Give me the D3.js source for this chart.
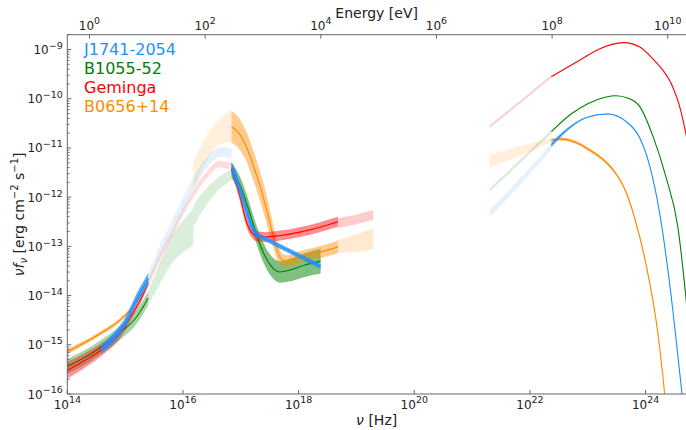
<!DOCTYPE html>
<html><head><meta charset="utf-8">
<script src="https://cdn.jsdelivr.net/npm/d3@7"></script>
<style>body{margin:0;background:#fff}svg{display:block}text{font-family:"DejaVu Sans",sans-serif}</style>
</head><body><svg id="c" width="686" height="430"></svg>
<script>
// ---- data: rows are [log10 nu (Hz), log10 nuF_nu, half band width in dex] ----
const names = ["J1741-2054", "B1055-52", "Geminga", "B0656+14"];
const colors = ["#1e90ff", "green", "#ff0000", "#ff8c00"];

// J1741-2054
const blueOpt = [[14.59,-15.09,0.09],[14.8,-14.86,0.1],[15.0,-14.55,0.1],[15.2,-14.07,0.11],[15.4,-13.66,0.12]];
const blueOptExt = [[15.4,-13.66,0.1],[15.6,-13.1,0.11],[15.83,-12.55,0.12],[16.0,-12.15,0.12],[16.18,-11.72,0.12],[16.41,-11.3,0.11],[16.67,-11.08,0.1],[16.84,-11.12,0.1]];
const blueX = [[16.84,-11.41,0.13],[16.93,-11.65,0.13],[17.02,-11.98,0.13],[17.10,-12.30,0.12],[17.19,-12.59,0.1],[17.26,-12.73,0.07],[17.36,-12.81,0.05],[17.50,-12.89,0.05],[17.85,-13.10,0.05],[18.38,-13.41,0.05]];
const blueGamExt = [[21.30,-12.34,0.07],[21.85,-11.66,0.07],[22.37,-10.97,0.06]];
const blueGam = [[22.37,-10.94,0.05],[22.63,-10.64,0.03],[22.98,-10.38,0.01],[23.35,-10.31,0.01],[23.67,-10.47,0.01],[23.90,-10.80,0.01],[24.07,-11.36,0.01],[24.24,-12.3,0.01],[24.41,-13.7,0.01],[24.63,-16.0,0.01],[24.72,-17.0,0.01]];

// B1055-52
const greenOpt = [[14.0,-15.44,0.15],[14.3,-15.26,0.15],[14.59,-15.04,0.14],[14.94,-14.73,0.14],[15.2,-14.43,0.14],[15.4,-14.05,0.14]];
const greenOptExt = [[15.4,-14.05,0.14],[15.6,-13.55,0.22],[15.78,-13.12,0.27],[16.0,-12.8,0.32],[16.18,-12.6,0.37]];
const greenXExt = [[16.18,-12.38,0.22],[16.40,-12.0,0.17],[16.62,-11.72,0.13],[16.84,-11.55,0.11]];
const greenX = [[16.84,-11.45,0.16],[16.98,-11.74,0.17],[17.10,-12.12,0.18],[17.21,-12.53,0.18],[17.31,-12.89,0.19],[17.42,-13.20,0.2],[17.54,-13.42,0.21],[17.68,-13.52,0.22],[17.85,-13.48,0.23],[18.11,-13.38,0.24],[18.38,-13.30,0.25]];
const greenGamExt = [[21.30,-11.86,0.03],[21.85,-11.25,0.03],[22.37,-10.67,0.03]];
const greenGam = [[22.37,-10.67,0.01],[22.70,-10.32,0.01],[23.0,-10.10,0.01],[23.3,-9.97,0.01],[23.49,-9.94,0.01],[23.70,-9.99,0.01],[23.90,-10.16,0.01],[24.13,-10.77,0.01],[24.36,-11.62,0.01],[24.56,-12.62,0.01],[24.69,-13.95,0.01],[24.72,-14.3,0.01]];

// Geminga
const redOpt = [[14.0,-15.52,0.17],[14.3,-15.32,0.15],[14.59,-15.1,0.13],[14.94,-14.72,0.1],[15.1,-14.42,0.08],[15.25,-14.12,0.07],[15.4,-13.75,0.06]];
const redOptExt = [[15.4,-13.75,0.07],[15.6,-13.22,0.07],[15.83,-12.7,0.07],[16.0,-12.3,0.07],[16.18,-11.93,0.07],[16.41,-11.55,0.07],[16.62,-11.33,0.07],[16.84,-11.38,0.07]];
const redX = [[16.84,-11.42,0.1],[16.98,-11.96,0.1],[17.09,-12.47,0.1],[17.18,-12.71,0.1],[17.26,-12.79,0.1],[17.42,-12.81,0.1],[17.68,-12.78,0.1],[18.02,-12.71,0.1],[18.37,-12.61,0.1],[18.68,-12.50,0.1]];
const redXExt = [[18.68,-12.53,0.1],[19.0,-12.45,0.1],[19.29,-12.36,0.1]];
const redGamExt = [[21.30,-10.57,0.025],[21.85,-10.05,0.025],[22.37,-9.55,0.025]];
const redGam = [[22.37,-9.55,0.01],[22.86,-9.22,0.01],[23.20,-8.99,0.01],[23.62,-8.86,0.01],[23.90,-8.95,0.01],[24.15,-9.22,0.01],[24.30,-9.42,0.01],[24.47,-9.76,0.01],[24.58,-10.12,0.01],[24.69,-10.67,0.01],[24.72,-10.85,0.01]];

// B0656+14
const orangeOpt = [[14.0,-15.14,0.05],[14.57,-14.77,0.04],[14.91,-14.50,0.04],[15.11,-14.26,0.04],[15.25,-14.03,0.04],[15.4,-13.75,0.04]];
const orangeXExtLo = [[16.18,-11.57,0.29],[16.41,-11.0,0.26],[16.64,-10.66,0.26],[16.84,-10.56,0.32]];
const orangeX = [[16.84,-10.57,0.32],[16.98,-10.72,0.31],[17.10,-10.98,0.3],[17.2,-11.3,0.3],[17.3,-11.65,0.3],[17.4,-12.05,0.29],[17.5,-12.5,0.26],[17.58,-12.88,0.22],[17.65,-13.15,0.17],[17.71,-13.27,0.13],[17.8,-13.30,0.12],[18.02,-13.22,0.12],[18.37,-13.12,0.12],[18.68,-13.01,0.13]];
const orangeXExtHi = [[18.68,-13.0,0.13],[19.0,-12.93,0.18],[19.29,-12.85,0.22]];
const orangeGamExt = [[21.30,-11.27,0.12],[21.84,-11.06,0.1],[22.1,-10.95,0.07],[22.37,-10.84,0.04]];
const orangeGam = [[22.37,-10.84,0.03],[22.55,-10.82,0.03],[22.75,-10.87,0.03],[23.03,-11.04,0.03],[23.25,-11.22,0.03],[23.44,-11.45,0.03],[23.67,-11.92,0.03],[23.81,-12.42,0.03],[24.01,-13.38,0.03],[24.21,-14.74,0.03],[24.33,-16.0,0.03],[24.40,-16.9,0.03]];

// ticks
const xTickExps = [14, 16, 18, 20, 22, 24];
const eVTickExps = [0, 2, 4, 6, 8, 10];
const yTickExps = [-16, -15, -14, -13, -12, -11, -10, -9];
const HZ_PER_EV = 2.418e14;

// ---- chart ----
const svg = d3.select("#c");
const L = 67.3, R = 686, T = 34.7, B = 394;
const x = d3.scaleLog().domain([1e14, 5e24]).range([L, R]);
const y = d3.scaleLog().domain([1e-16, 2e-9]).range([B, T]);

svg.append("clipPath").attr("id","clip").append("rect").attr("x",L).attr("y",T).attr("width",R-L).attr("height",B-T);
const g = svg.append("g").attr("clip-path","url(#clip)");

const area = d3.area().x(d=>x(10**d[0])).y0(d=>y(10**(d[1]-d[2]))).y1(d=>y(10**(d[1]+d[2]))).curve(d3.curveMonotoneX);
const line = d3.line().x(d=>x(10**d[0])).y(d=>y(10**d[1])).curve(d3.curveMonotoneX);

const faint = [
  [greenOptExt,1],[greenXExt,1],[greenGamExt,1,0.16],
  [orangeXExtLo,3],[orangeXExtHi,3,0.18],[orangeGamExt,3],
  [redOptExt,2],[redXExt,2,0.2],[redGamExt,2,0.2],
  [blueOptExt,0,0.12],[blueGamExt,0,0.12]
];
faint.forEach(([d,c,a])=>{
  g.append("path").attr("d",area(d)).attr("fill",colors[c]).attr("fill-opacity",a||0.14);
});

const solid = [
  [greenOpt,1,0.35,true],
  [redOpt,2,0.4,true],
  [greenX,1,0.5,true],[greenGam,1,0,true],
  [orangeOpt,3,0.5,true],[orangeX,3,0.45,true],[orangeGam,3,0.6,true],
  [redX,2,0.45,true],[redGam,2,0,true],
  [blueOpt,0,0.75,true],[blueX,0,0.75,true],[blueGam,0,0.6,true]
];
solid.forEach(([d,c,a,ln])=>{
  if (a>0) g.append("path").attr("d",area(d)).attr("fill",colors[c]).attr("fill-opacity",a);
  if (ln) g.append("path").attr("d",line(d)).attr("fill","none").attr("stroke",colors[c]).attr("stroke-width",1.1);
});

// ---- axes ----
const axisCol = "#666", txtCol = "#222";
const ax = svg.append("g").attr("stroke",axisCol).attr("fill","none");
ax.append("line").attr("x1",L).attr("x2",R).attr("y1",B).attr("y2",B);
ax.append("line").attr("x1",L).attr("x2",R).attr("y1",T).attr("y2",T);
ax.append("line").attr("x1",L).attr("x2",L).attr("y1",T).attr("y2",B);

function supLabel(sel, base, exp, fs){
  sel.attr("font-size",fs).attr("fill",txtCol);
  sel.append("tspan").text(base);
  sel.append("tspan").attr("dy",-0.42*fs).attr("font-size",fs*0.79).text(exp<0?"\u2212"+(-exp):String(exp));
}
const fsT = 12;
xTickExps.forEach(e=>{
  const px = x(10**e);
  ax.append("line").attr("x1",px).attr("x2",px).attr("y1",B).attr("y2",B-4);
  supLabel(svg.append("text").attr("x",px).attr("y",B+14.5).attr("text-anchor","middle"),"10",e,fsT);
});
eVTickExps.forEach(e=>{
  const px = x(HZ_PER_EV*10**e);
  ax.append("line").attr("x1",px).attr("x2",px).attr("y1",T).attr("y2",T+4);
  supLabel(svg.append("text").attr("x",px).attr("y",T-5.2).attr("text-anchor","middle"),"10",e,fsT);
});
yTickExps.forEach(e=>{
  const py = y(10**e);
  ax.append("line").attr("x1",L).attr("x2",L+4).attr("y1",py).attr("y2",py);
  supLabel(svg.append("text").attr("x",L-4.6).attr("y",py+4.5).attr("text-anchor","end"),"10",e,fsT);
  for (let k=2;k<=9;k++){
    const v = k*10**e; if (v>2e-9) continue;
    const pm = y(v);
    ax.append("line").attr("x1",L).attr("x2",L+2.2).attr("y1",pm).attr("y2",pm);
  }
});

// axis titles
svg.append("text").attr("x",(L+R)/2).attr("y",425).attr("text-anchor","middle").attr("font-size",14).attr("fill",txtCol)
  .call(t=>{t.append("tspan").attr("font-style","italic").text("\u03bd"); t.append("tspan").text(" [Hz]");});
svg.append("text").attr("x",(L+R)/2).attr("y",18).attr("text-anchor","middle").attr("font-size",14).attr("fill",txtCol).text("Energy [eV]");
svg.append("text").attr("transform",`translate(24,${(T+B)/2}) rotate(-90)`).attr("text-anchor","middle").attr("font-size",14).attr("fill",txtCol)
  .call(t=>{
    t.append("tspan").attr("font-style","italic").text("\u03bdf");
    t.append("tspan").attr("font-style","italic").attr("font-size",10).attr("dy",3).text("\u03bd");
    t.append("tspan").attr("dy",-3).text(" [erg  cm");
    t.append("tspan").attr("font-size",10).attr("dy",-6).text("\u22122");
    t.append("tspan").attr("dy",6).text(" s");
    t.append("tspan").attr("font-size",10).attr("dy",-6).text("\u22121");
    t.append("tspan").attr("dy",6).text("]");
  });

// legend (coloured text)
names.forEach((n,i)=>{
  svg.append("text").attr("x",84).attr("y",55+i*19).attr("font-size",16).attr("fill",colors[i]).text(n);
});
</script></body></html>
